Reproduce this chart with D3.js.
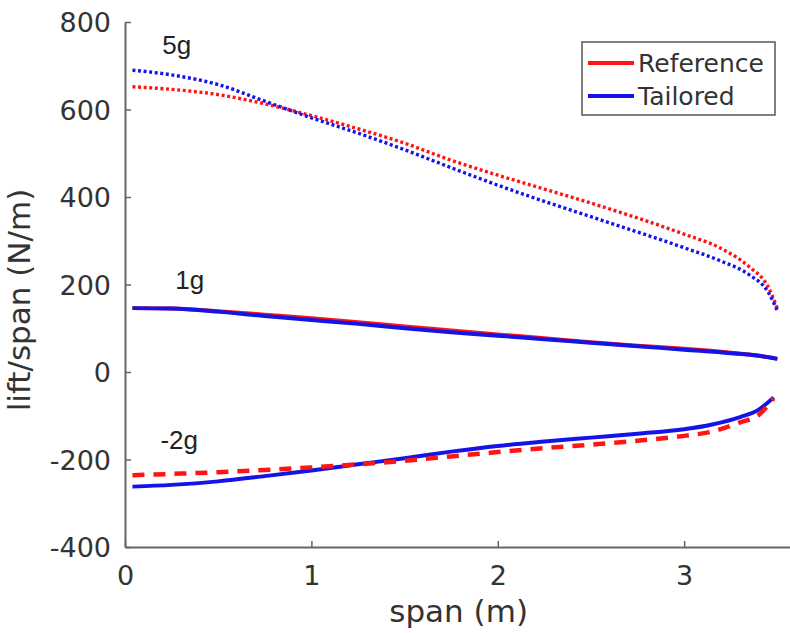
<!DOCTYPE html>
<html>
<head>
<meta charset="utf-8">
<script src="https://cdn.jsdelivr.net/npm/d3@7"></script>
<style>
  body { margin: 0; background: #fff; }
  text { font-family: "DejaVu Sans", sans-serif; fill: #333; }
  .curveLabel { font-family: "Liberation Sans", Arial, sans-serif; fill: #222; }
</style>
</head>
<body>
<div id="chart"></div>
<script>
// span stations (m)
const span5 = [0.04, 0.25, 0.5, 0.75, 1.0, 1.25, 1.5, 1.75, 2.0, 2.25, 2.5, 2.75, 3.0, 3.2, 3.35, 3.45, 3.5];
const ref5g = [652, 646, 634, 613, 586, 556, 523, 484, 450, 418, 386, 352, 315, 282, 240, 195, 145];
const tail5g = [690, 679, 657, 619, 581, 546, 508, 467, 427, 390, 355, 320, 284, 253, 222, 183, 140];

const span1 = [0.04, 0.25, 0.5, 0.75, 1.0, 1.25, 1.5, 1.75, 2.0, 2.25, 2.5, 2.75, 3.0, 3.25, 3.4, 3.5];
const ref1g = [146, 145, 139, 131, 123, 114, 104, 95, 86, 77, 68, 60, 53, 44, 37, 30];
const tail1g = [146, 145, 138, 128, 119, 110, 100, 91, 83, 75, 67, 59, 51, 43, 37, 30];

const spanM2 = [0.04, 0.25, 0.5, 0.75, 1.0, 1.25, 1.5, 1.75, 2.0, 2.25, 2.5, 2.75, 3.0, 3.15, 3.3, 3.4, 3.48];
const refM2g = [-236, -233, -229, -224, -218, -211, -203, -193, -183, -174, -166, -157, -146, -136, -115, -98, -60];
const tailM2g = [-262, -258, -250, -238, -225, -211, -197, -182, -169, -159, -150, -141, -131, -120, -103, -86, -58];

const xTicks = [0, 1, 2, 3];
const yTicks = [-400, -200, 0, 200, 400, 600, 800];
const legendNames = ["Reference", "Tailored"];

const width = 790, height = 633;
const margin = {top: 22, right: -6, bottom: 86, left: 125};

const svg = d3.select("#chart")
    .append("svg")
    .attr("width", width)
    .attr("height", height);

const x = d3.scaleLinear()
    .domain([0, 3.6])
    .range([margin.left, width - margin.right]);

const y = d3.scaleLinear()
    .domain([-400, 800])
    .range([height - margin.bottom, margin.top]);

// plain hyphen for negatives, like the original
const fmt = function(d) { return String(d); };

// axes (ticks pointing inward, like matlab)
const xAxis = svg.append("g")
    .attr("transform", "translate(0," + y(-400) + ")")
    .call(d3.axisBottom(x).tickValues(xTicks).tickFormat(fmt).tickSize(-6).tickPadding(14).tickSizeOuter(0));
const yAxis = svg.append("g")
    .attr("transform", "translate(" + x(0) + ",0)")
    .call(d3.axisLeft(y).tickValues(yTicks).tickFormat(fmt).tickSize(-6).tickPadding(14).tickSizeOuter(0));

[xAxis, yAxis].forEach(function(a) {
    a.select(".domain").attr("stroke", "#666").attr("stroke-width", 2);
    a.selectAll(".tick line").attr("stroke", "#666").attr("stroke-width", 1.5);
    a.selectAll(".tick text")
        .style("font-family", "DejaVu Sans, sans-serif")
        .style("font-size", "27px")
        .attr("fill", "#333");
});
xAxis.selectAll(".tick text").attr("dy", "0.9em");
yAxis.selectAll(".tick text").attr("dy", "0.36em");

// axis labels
svg.append("text")
    .attr("x", x(1.79))
    .attr("y", 622)
    .attr("text-anchor", "middle")
    .style("font-size", "31px")
    .text("span (m)");

svg.append("text")
    .attr("transform", "translate(30,300)rotate(-90)")
    .attr("text-anchor", "middle")
    .style("font-size", "31px")
    .text("lift/span (N/m)");

function lineFor(xs) {
    return d3.line()
        .x(function(d, i) { return x(xs[i]); })
        .y(function(d) { return y(d); })
        .curve(d3.curveMonotoneX);
}

const series = [
    {xs: span5, vals: ref5g, color: "#ff1414", dash: "3,2.6", w: 3.4},
    {xs: span5, vals: tail5g, color: "#1414f0", dash: "3,2.6", w: 3.4},
    {xs: span1, vals: ref1g, color: "#ff1414", dash: null, w: 4},
    {xs: span1, vals: tail1g, color: "#1414e6", dash: null, w: 4},
    {xs: spanM2, vals: tailM2g, color: "#1414e6", dash: null, w: 4},
    {xs: spanM2, vals: refM2g, color: "#ff1414", dash: "12,9", w: 4.5}
];

series.forEach(function(s) {
    svg.append("path")
        .datum(s.vals)
        .attr("d", lineFor(s.xs))
        .attr("fill", "none")
        .attr("stroke", s.color)
        .attr("stroke-width", s.w)
        .attr("stroke-dasharray", s.dash);
});

// load case labels
const loadLabels = [
    {t: "5g", xv: 0.2, yv: 727},
    {t: "1g", xv: 0.27, yv: 190},
    {t: "-2g", xv: 0.19, yv: -177}
];
svg.selectAll(".curveLabel")
    .data(loadLabels)
    .enter()
    .append("text")
    .attr("class", "curveLabel")
    .attr("x", function(d) { return x(d.xv); })
    .attr("y", function(d) { return y(d.yv); })
    .style("font-size", "26px")
    .text(function(d) { return d.t; });

// legend
const legend = svg.append("g").attr("transform", "translate(582,42)");
legend.append("rect")
    .attr("width", 193)
    .attr("height", 73)
    .attr("fill", "#fff")
    .attr("stroke", "#555")
    .attr("stroke-width", 1.5);
legendNames.forEach(function(n, i) {
    const ly = 21 + i * 33;
    legend.append("line")
        .attr("x1", 6).attr("x2", 52)
        .attr("y1", ly).attr("y2", ly)
        .attr("stroke", i === 0 ? "#ff1414" : "#1414e6")
        .attr("stroke-width", 4);
    legend.append("text")
        .attr("x", 56)
        .attr("y", ly + 9)
        .style("font-size", "25px")
        .attr("fill", "#222")
        .text(n);
});
</script>
</body>
</html>
